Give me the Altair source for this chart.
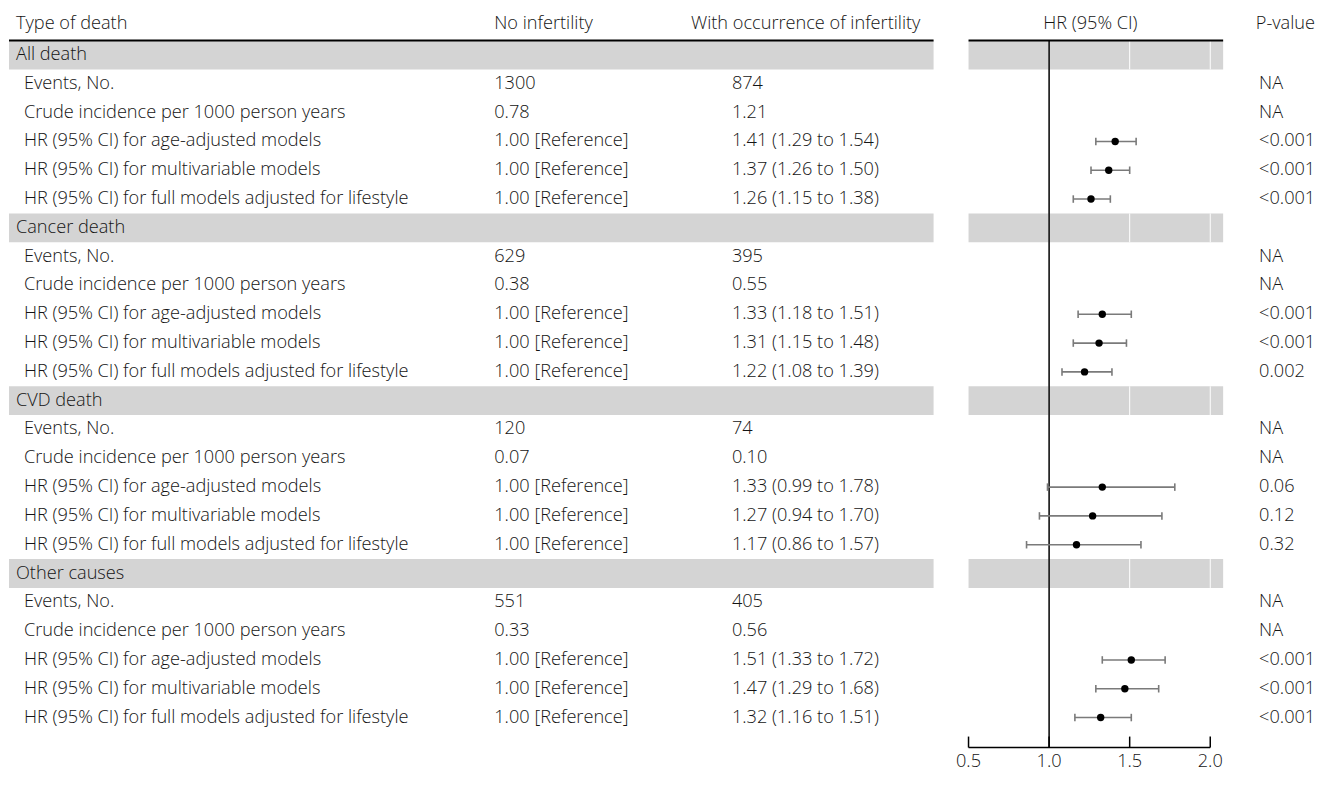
import altair as alt
import pandas as pd

# ---------------- data ----------------
groups = ["All death", "Cancer death", "CVD death", "Other causes"]
row_labels = [
    "Events, No.",
    "Crude incidence per 1000 person years",
    "HR (95% CI) for age-adjusted models",
    "HR (95% CI) for multivariable models",
    "HR (95% CI) for full models adjusted for lifestyle",
]
events_no = ["1300", "629", "120", "551"]
events_inf = ["874", "395", "74", "405"]
crude_no = ["0.78", "0.38", "0.07", "0.33"]
crude_inf = ["1.21", "0.55", "0.10", "0.56"]
hr = [[1.41, 1.37, 1.26], [1.33, 1.31, 1.22], [1.33, 1.27, 1.17], [1.51, 1.47, 1.32]]
hr_lo = [[1.29, 1.26, 1.15], [1.18, 1.15, 1.08], [0.99, 0.94, 0.86], [1.33, 1.29, 1.16]]
hr_hi = [[1.54, 1.50, 1.38], [1.51, 1.48, 1.39], [1.78, 1.70, 1.57], [1.72, 1.68, 1.51]]
pvals = [
    ["NA", "NA", "<0.001", "<0.001", "<0.001"],
    ["NA", "NA", "<0.001", "<0.001", "0.002"],
    ["NA", "NA", "0.06", "0.12", "0.32"],
    ["NA", "NA", "<0.001", "<0.001", "<0.001"],
]
headers = ["Type of death", "No infertility", "With occurrence of infertility", "HR (95% CI)", "P-value"]
x_ticks = [0.5, 1.0, 1.5, 2.0]
x_tick_labels = ["0.5", "1.0", "1.5", "2.0"]
grid_vals = [1.0, 1.5, 2.0]

# ---------------- tables ----------------
group_rows, sub_rows = [], []
for g, name in enumerate(groups):
    base = 6 * g
    group_rows.append({"r": base, "label": name})
    for k, lab in enumerate(row_labels):
        r = base + 1 + k
        if k == 0:
            c1, c2 = events_no[g], events_inf[g]
        elif k == 1:
            c1, c2 = crude_no[g], crude_inf[g]
        else:
            j = k - 2
            c1 = "1.00 [Reference]"
            c2 = f"{hr[g][j]:.2f} ({hr_lo[g][j]:.2f} to {hr_hi[g][j]:.2f})"
        row = {"r": r, "label": lab, "c1": c1, "c2": c2, "p": pvals[g][k]}
        if k >= 2:
            j = k - 2
            row.update({"hr": hr[g][j], "lo": hr_lo[g][j], "hi": hr_hi[g][j]})
        sub_rows.append(row)

gdf = pd.DataFrame(group_rows)
sdf = pd.DataFrame(sub_rows)
fdf = sdf.dropna(subset=["hr"])
band_grid = pd.DataFrame([{"r": r["r"], "x": v} for r in group_rows for v in grid_vals])
ticks_df = pd.DataFrame({"x": x_ticks, "lab": x_tick_labels})

HEADER_R = -1.08
ROW_PX = 28.85
H = 764
R_TOP = -1.612
Y_DOM = [R_TOP, R_TOP + H / ROW_PX]
AXIS_R = 24.04
FONT = "Open Sans"
FS = 18.2
TXT = "#141414"
BAND = "#d4d4d4"

ysc = alt.Scale(domain=Y_DOM, reverse=True)
yenc = lambda f="r:Q": alt.Y(f, scale=ysc, axis=None)

def txt(**kw):
    base = dict(font=FONT, fontSize=FS, color=TXT, baseline="middle", align="left", fontWeight=300)
    base.update(kw)
    return base

hdr = pd.DataFrame({"r": [HEADER_R]})

def bands(width, x0=0):
    return alt.Chart(gdf).mark_rect(color=BAND).encode(
        x=alt.value(x0), x2=alt.value(width),
        y=alt.Y("y0:Q", scale=ysc, axis=None), y2="y1:Q",
    ).transform_calculate(y0="datum.r - 0.5", y1="datum.r + 0.5")

def header_line(width, x0=0):
    return alt.Chart(hdr).mark_rule(color="black", strokeWidth=2).encode(
        x=alt.value(x0), x2=alt.value(width), y=alt.Y(datum=-0.5, scale=ysc, axis=None)
    )

# ---------- left table panel ----------
W1 = 960
left = alt.layer(
    bands(925, -1),
    header_line(925, -1),
    alt.Chart(gdf).mark_text(**txt()).encode(x=alt.value(6), y=yenc(), text="label:N"),
    alt.Chart(sdf).mark_text(**txt()).encode(x=alt.value(14), y=yenc(), text="label:N"),
    alt.Chart(sdf).mark_text(**txt()).encode(x=alt.value(485), y=yenc(), text="c1:N"),
    alt.Chart(sdf).mark_text(**txt()).encode(x=alt.value(723), y=yenc(), text="c2:N"),
    alt.Chart(hdr).mark_text(**txt(text=headers[0])).encode(x=alt.value(6), y=yenc()),
    alt.Chart(hdr).mark_text(**txt(text=headers[1])).encode(x=alt.value(485), y=yenc()),
    alt.Chart(hdr).mark_text(**txt(text=headers[2])).encode(x=alt.value(682), y=yenc()),
).properties(width=W1, height=H)

# ---------- forest panel ----------
W2 = 255
xs = alt.Scale(domain=[0.5, 2.08], nice=False, zero=False)
forest = alt.layer(
    bands(W2),
    alt.Chart(band_grid).mark_rule(color="white", strokeWidth=1).encode(
        x=alt.X("x:Q", scale=xs, axis=None),
        y=alt.Y("y0:Q", scale=ysc, axis=None), y2="y1:Q",
    ).transform_calculate(y0="datum.r - 0.5", y1="datum.r + 0.5"),
    header_line(W2),
    alt.Chart(hdr).mark_rule(color="black", strokeWidth=1.5).encode(
        x=alt.X(datum=1.0, scale=xs, axis=None), y=alt.Y(datum=-0.5, scale=ysc, axis=None),
        y2=alt.datum(AXIS_R),
    ),
    alt.Chart(fdf).mark_rule(color="#7a7a7a", strokeWidth=1.6).encode(
        x=alt.X("lo:Q", scale=xs, axis=None), x2="hi:Q", y=yenc()
    ),
    alt.Chart(fdf).transform_fold(["lo", "hi"], as_=["end", "v"]).transform_calculate(
        y0="datum.r - 0.13", y1="datum.r + 0.13"
    ).mark_rule(color="#7a7a7a", strokeWidth=1.6).encode(
        x=alt.X("v:Q", scale=xs, axis=None), y=yenc("y0:Q"), y2="y1:Q"
    ),
    alt.Chart(fdf).mark_circle(color="black", size=55, opacity=1).encode(
        x=alt.X("hr:Q", scale=xs, axis=None), y=yenc()
    ),
    # axis line and upward ticks
    alt.Chart(hdr).mark_rule(color="black", strokeWidth=1.5).encode(
        x=alt.X(datum=x_ticks[0], scale=xs, axis=None), x2=alt.datum(x_ticks[-1]),
        y=alt.Y(datum=AXIS_R, scale=ysc, axis=None),
    ),
    alt.Chart(ticks_df).transform_calculate(t0=f"{AXIS_R}", t1=f"{AXIS_R - 0.38}").mark_rule(
        color="black", strokeWidth=1.5
    ).encode(x=alt.X("x:Q", scale=xs, axis=None), y=yenc("t0:Q"), y2="t1:Q"),
    alt.Chart(ticks_df).mark_text(**txt(align="center", baseline="bottom")).encode(
        x=alt.X("x:Q", scale=xs, axis=None), y=alt.value(H), text="lab:N"
    ),
    alt.Chart(hdr).mark_text(**txt(text=headers[3], align="center")).encode(x=alt.value(122), y=yenc()),
).properties(width=W2, height=H)

# ---------- p-value panel ----------
W3 = 93
pv = alt.layer(
    alt.Chart(sdf).mark_text(**txt()).encode(x=alt.value(36), y=yenc(), text="p:N"),
    alt.Chart(hdr).mark_text(**txt(text=headers[4], align="right")).encode(x=alt.value(W3 - 1), y=yenc()),
).properties(width=W3, height=H)

chart = alt.hconcat(left, forest, pv, spacing=0, bounds="flush").properties(padding=0).configure_view(
    stroke=None
)

chart.save("out.html", embed_options={"renderer": "svg", "actions": False})
